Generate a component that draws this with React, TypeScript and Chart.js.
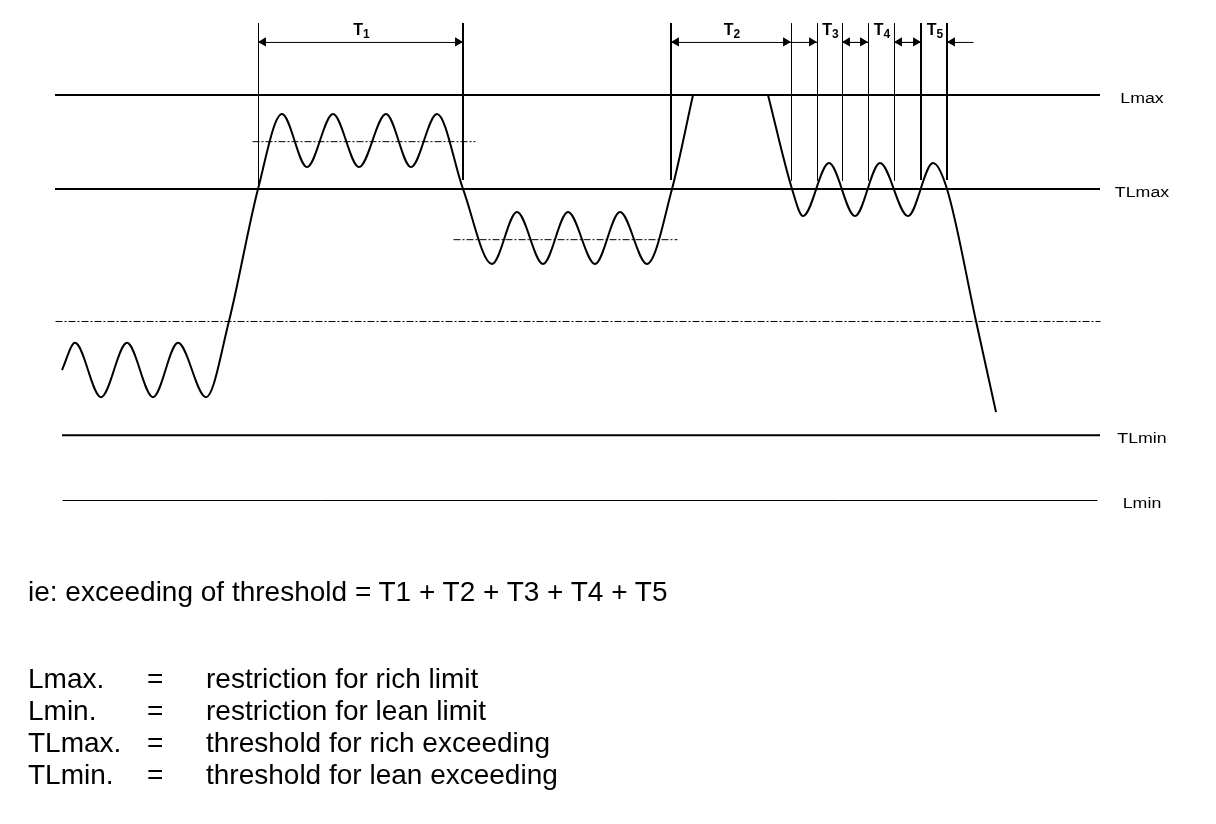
import React, { useEffect, useRef } from "react";
import { Chart, registerables } from "chart.js";

Chart.register(...registerables);

// ---------- DATA (time units on x, signal level on y: Lmin = 0, Lmax = 100) ----------
const levelNames = ["Lmax", "TLmax", "TLmin", "Lmin"];
const levelValues = [100, 76.8, 16.0, 0];
const levelStarts = [55, 55, 62, 62];
const levelEnds = [1100, 1100, 1100, 1097];

const meanValues = [44.2, 88.6, 64.4];
const meanStarts = [55, 252, 453];
const meanEnds = [1100, 475, 677];

// signal: rising part, clipped part at Lmax, falling part
const signalTimeA = [62, 75, 101, 127, 153, 178, 206, 229, 258, 282, 307, 333, 359, 386, 411, 437, 463, 492, 517, 543, 568, 595, 620, 647, 672, 693];
const signalLevelA = [32.1, 38.8, 25.4, 38.8, 25.4, 38.8, 25.4, 44.2, 76.8, 95.3, 82.2, 95.3, 82.2, 95.3, 82.2, 95.3, 76.8, 58.3, 71.1, 58.3, 71.1, 58.3, 71.1, 58.3, 76.8, 100];
const signalTimeB = [693, 768];
const signalLevelB = [100, 100];
const signalTimeC = [768, 792, 803, 829, 855, 880, 908, 933, 947, 976, 996];
const signalLevelC = [100, 76.8, 70.1, 83.2, 70.1, 83.2, 70.1, 83.2, 76.8, 44.2, 21.7];

// interval markers
const markerTimes = [258, 463, 671, 791, 817, 842, 868, 894, 921, 947];
const markerTop = 117.8;
const markerBottoms = [76.8, 79, 79, 79, 79, 79, 79, 79, 79, 79];

// intervals T1..T5
const intervalNames = ["T", "T", "T", "T", "T"];
const intervalIndex = ["1", "2", "3", "4", "5"];
const intervalStarts = [258, 671, 817, 868, 921];
const intervalEnds = [463, 791, 842, 894, 947];
const intervalInside = [true, true, false, false, false];
const dimensionLevel = 113.1;

// explanatory text
const summaryText = "ie: exceeding of threshold = T1 + T2 + T3 + T4 + T5";
const legendTerms = ["Lmax.", "Lmin.", "TLmax.", "TLmin."];
const legendMeanings = [
  "restriction for rich limit",
  "restriction for lean limit",
  "threshold for rich exceeding",
  "threshold for lean exceeding",
];

// ---------- STYLE ----------
const thickMarkers = [false, true, true, false, false, false, false, false, true, true];
const levelWidths = [2, 2, 2, 1];
const DASH_DOT = [7, 2, 2, 2];
const ARROW_R = 5.3;
const OUTER_ARROW = 26;
const FONT = '"Liberation Sans", Arial, Helvetica, sans-serif';

export default function App() {
  const ref = useRef<HTMLCanvasElement>(null);

  useEffect(() => {
    const canvas = ref.current;
    if (!canvas) return;
    const datasets: any[] = [];
    const addLine = (xs: number[], ys: number[], opts: any = {}) => {
      datasets.push({
        data: xs.map((x, i) => ({ x, y: ys[i] })),
        showLine: true,
        pointRadius: 0,
        pointHoverRadius: 0,
        borderColor: "#000",
        backgroundColor: "#000",
        borderWidth: 1,
        fill: false,
        tension: 0,
        ...opts,
      });
    };

    // level lines
    levelValues.forEach((v, i) => {
      addLine([levelStarts[i], levelEnds[i]], [v, v], { borderWidth: levelWidths[i] });
    });
    // mean (dash-dot) lines
    meanValues.forEach((v, i) => {
      addLine([meanStarts[i], meanEnds[i]], [v, v], { borderWidth: 1, borderDash: DASH_DOT });
    });
    // markers
    markerTimes.forEach((t, i) => {
      addLine([t, t], [markerTop, markerBottoms[i]], { borderWidth: thickMarkers[i] ? 2 : 1 });
    });
    // signal
    addLine(signalTimeA, signalLevelA, { borderWidth: 2, cubicInterpolationMode: "monotone" });
    addLine(signalTimeB, signalLevelB, { borderWidth: 2 });
    addLine(signalTimeC, signalLevelC, { borderWidth: 2, cubicInterpolationMode: "monotone" });

    // dimension arrows
    const headX: number[] = [];
    const headRot: number[] = [];
    intervalStarts.forEach((s, i) => {
      const e = intervalEnds[i];
      if (intervalInside[i]) {
        addLine([s, e], [dimensionLevel, dimensionLevel]);
        headX.push(s + ARROW_R, e - ARROW_R);
        headRot.push(270, 90);
      } else {
        addLine([s - OUTER_ARROW, s], [dimensionLevel, dimensionLevel]);
        addLine([e, e + OUTER_ARROW], [dimensionLevel, dimensionLevel]);
        headX.push(s - ARROW_R, e + ARROW_R);
        headRot.push(90, 270);
      }
    });
    datasets.push({
      data: headX.map((x) => ({ x, y: dimensionLevel })),
      showLine: false,
      pointStyle: "triangle",
      pointRadius: ARROW_R,
      pointHoverRadius: ARROW_R,
      pointRotation: headRot,
      pointBackgroundColor: "#000",
      pointBorderColor: "#000",
      pointBorderWidth: 0,
    });

    // crisp 1px lines: shift thin straight lines by half a pixel
    const crispPlugin = {
      id: "crispThin",
      beforeDatasetDraw(chart: any, args: any) {
        const ds = chart.data.datasets[args.index];
        chart.ctx.save();
        if (ds.showLine && ds.borderWidth === 1) chart.ctx.translate(0.5, 0.5);
      },
      afterDatasetDraw(chart: any) {
        chart.ctx.restore();
      },
    };

    const textPlugin = {
      id: "diagramText",
      afterDatasetsDraw(chart: any) {
        const { ctx, scales } = chart;
        const xs = scales.x;
        const ys = scales.y;
        ctx.save();
        ctx.fillStyle = "#000";
        // level labels
        ctx.font = `14px ${FONT}`;
        ctx.textAlign = "center";
        ctx.textBaseline = "alphabetic";
        levelNames.forEach((name, i) => {
          const px = xs.getPixelForValue(1100) + 42;
          const py = ys.getPixelForValue(levelValues[i]) + 8;
          ctx.save();
          ctx.translate(px, py);
          ctx.scale(1.27, 1);
          ctx.fillText(name, 0, 0);
          ctx.restore();
        });
        // interval labels
        ctx.textAlign = "left";
        intervalNames.forEach((name, i) => {
          const cx = (xs.getPixelForValue(intervalStarts[i]) + xs.getPixelForValue(intervalEnds[i])) / 2 + 1;
          const by = ys.getPixelForValue(dimensionLevel) - 7;
          ctx.font = `bold 16px ${FONT}`;
          const tw = ctx.measureText(name).width;
          ctx.font = `bold 12px ${FONT}`;
          const sw = ctx.measureText(intervalIndex[i]).width;
          const x0 = cx - (tw + sw) / 2;
          ctx.font = `bold 16px ${FONT}`;
          ctx.fillText(name, x0, by);
          ctx.font = `bold 12px ${FONT}`;
          ctx.fillText(intervalIndex[i], x0 + tw, by + 3);
        });
        ctx.restore();
      },
    };

    const chart = new Chart(canvas, {
      type: "scatter",
      data: { datasets },
      options: {
        animation: false,
        responsive: false,
        maintainAspectRatio: false,
        devicePixelRatio: 1,
        events: [],
        layout: { padding: 0, autoPadding: false },
        plugins: { legend: { display: false }, tooltip: { enabled: false } },
        scales: {
          x: { type: "linear", min: 0, max: 1216, display: false },
          y: { type: "linear", min: -80, max: 500 / 4.05, display: false },
        },
      },
      plugins: [crispPlugin, textPlugin],
    });
    return () => chart.destroy();
  }, []);

  const textStyle: React.CSSProperties = {
    position: "absolute",
    fontFamily: FONT,
    fontSize: 28,
    lineHeight: "32px",
    color: "#000",
    whiteSpace: "nowrap",
  };

  return (
    <div style={{ position: "fixed", left: 0, top: 0, width: 1216, height: 824, background: "#fff" }}>
      <canvas ref={ref} width={1216} height={824} style={{ position: "absolute", left: 0, top: 0, width: 1216, height: 824 }} />
      <div style={{ ...textStyle, left: 28, top: 576 }}>{summaryText}</div>
      {legendTerms.map((term, i) => (
        <React.Fragment key={term}>
          <div style={{ ...textStyle, left: 28, top: 663 + i * 32 }}>{term}</div>
          <div style={{ ...textStyle, left: 147, top: 663 + i * 32 }}>=</div>
          <div style={{ ...textStyle, left: 206, top: 663 + i * 32 }}>{legendMeanings[i]}</div>
        </React.Fragment>
      ))}
    </div>
  );
}
